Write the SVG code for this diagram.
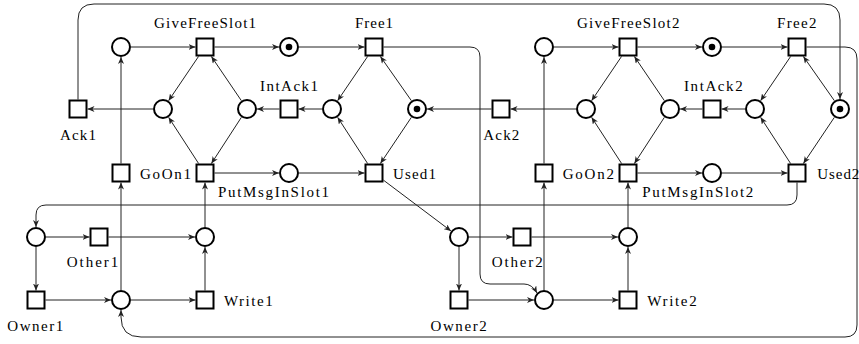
<svg xmlns="http://www.w3.org/2000/svg" width="859" height="344" viewBox="0 0 859 344">
<style>
.c{fill:none;stroke:#222;stroke-width:1;marker-end:url(#ah)}
.p{fill:#fff;stroke:#000;stroke-width:2}
.t{fill:#fff;stroke:#000;stroke-width:2}
.k{fill:#000}
text{font-family:"Liberation Serif","DejaVu Serif","Times New Roman",serif;font-size:15px;fill:#000}
</style>
<defs>
<marker id="ah" viewBox="0 0 7 6" refX="7" refY="3" markerWidth="7" markerHeight="6" markerUnits="userSpaceOnUse" orient="auto">
<path d="M0,0 L7,3 L0,6 L2,3 z" fill="#222"/>
</marker>
</defs>
<rect width="859" height="344" fill="#fff"/>
<g id="connectors">
<!-- left half -->
<path class="c" d="M131,47 H195.5"/>
<path class="c" d="M214.5,47 H279"/>
<path class="c" d="M299,47 H364.5"/>
<path class="c" d="M383.5,47 H470 Q480,47 480,57 V274 Q480,284 490,284 H524 Q532,284 537,293"/>
<path class="c" d="M198.5,56.5 L168.6,100.7"/>
<path class="c" d="M241.4,100.7 L211.4,56.5"/>
<path class="c" d="M198.6,163.5 L168.6,117.3"/>
<path class="c" d="M241.4,117.3 L211.4,163.5"/>
<path class="c" d="M279.5,109 H257"/>
<path class="c" d="M322,109 H298.5"/>
<path class="c" d="M367.6,56.5 L337.6,100.7"/>
<path class="c" d="M411.4,100.7 L380.4,56.5"/>
<path class="c" d="M367.6,163.5 L337.6,117.3"/>
<path class="c" d="M411.4,117.3 L380.4,163.5"/>
<path class="c" d="M153,109 H87.5"/>
<path class="c" d="M214.5,173 H279"/>
<path class="c" d="M299,173 H364.5"/>
<path class="c" d="M121,163.5 V57"/>
<path class="c" d="M121,290 V182.5"/>
<path class="c" d="M205,227 V182.5"/>
<path class="c" d="M205,290.5 V247"/>
<path class="c" d="M131,300 H195.5"/>
<path class="c" d="M45.5,300 H111"/>
<path class="c" d="M36,247 V290.5"/>
<path class="c" d="M46,237 H89.5"/>
<path class="c" d="M108.5,237 H195"/>
<path class="c" d="M383.5,180.2 L451,231"/>
<path class="c" d="M78,99.5 V20 Q78,4 94,4 H824 Q840,4 840,20 V99"/>
<!-- right half -->
<path class="c" d="M554,47 H618.5"/>
<path class="c" d="M637.5,47 H702"/>
<path class="c" d="M722,47 H787.5"/>
<path class="c" d="M806.5,47 H845 Q857,47 857,59 V325 Q857,337 845,337 H141 Q121,337 121,317 V310"/>
<path class="c" d="M621.5,56.5 L591.6,100.7"/>
<path class="c" d="M664.4,100.7 L634.4,56.5"/>
<path class="c" d="M621.6,163.5 L591.6,117.3"/>
<path class="c" d="M664.4,117.3 L634.4,163.5"/>
<path class="c" d="M702.5,109 H680"/>
<path class="c" d="M745,109 H721.5"/>
<path class="c" d="M790.6,56.5 L760.6,100.7"/>
<path class="c" d="M834.4,100.7 L803.4,56.5"/>
<path class="c" d="M790.6,163.5 L760.6,117.3"/>
<path class="c" d="M834.4,117.3 L803.4,163.5"/>
<path class="c" d="M576,109 H510.5"/>
<path class="c" d="M491.5,109 H427"/>
<path class="c" d="M637.5,173 H702"/>
<path class="c" d="M722,173 H787.5"/>
<path class="c" d="M544,163.5 V57"/>
<path class="c" d="M544,290 V182.5"/>
<path class="c" d="M628,227 V182.5"/>
<path class="c" d="M628,290.5 V247"/>
<path class="c" d="M554,300 H618.5"/>
<path class="c" d="M468.5,300 H534"/>
<path class="c" d="M459,247 V290.5"/>
<path class="c" d="M469,237 H512.5"/>
<path class="c" d="M531.5,237 H618"/>
<path class="c" d="M797,182.5 V195 Q797,205 787,205 H46 Q36,205 36,215 V227"/>
</g>
<!-- left half nodes -->
<g id="p1_req"><circle class="p" cx="121" cy="47" r="9"/></g>
<g id="p1_slot"><circle class="p" cx="289" cy="47" r="9"/><circle class="k" cx="289" cy="47" r="3.3"/></g>
<g id="p1_a"><circle class="p" cx="163" cy="109" r="9"/></g>
<g id="p1_b"><circle class="p" cx="247" cy="109" r="9"/></g>
<g id="p1_c"><circle class="p" cx="332" cy="109" r="9"/></g>
<g id="p1_free"><circle class="p" cx="417" cy="109" r="9"/><circle class="k" cx="417" cy="109" r="3.3"/></g>
<g id="p1_msg"><circle class="p" cx="289" cy="173" r="9"/></g>
<g id="p1_w"><circle class="p" cx="36" cy="237" r="9"/></g>
<g id="p1_r"><circle class="p" cx="205" cy="237" r="9"/></g>
<g id="p1_s"><circle class="p" cx="121" cy="300" r="9"/></g>
<g id="GiveFreeSlot1"><rect class="t" x="196.5" y="38.5" width="17" height="17"/><text x="154" y="28.3" textLength="102" lengthAdjust="spacing">GiveFreeSlot1</text></g>
<g id="Free1"><rect class="t" x="365.5" y="38.5" width="17" height="17"/><text x="355" y="28.3" textLength="38" lengthAdjust="spacing">Free1</text></g>
<g id="Ack1"><rect class="t" x="69.5" y="100.5" width="17" height="17"/><text x="60" y="140" textLength="36" lengthAdjust="spacing">Ack1</text></g>
<g id="IntAck1"><rect class="t" x="280.5" y="100.5" width="17" height="17"/><text x="260" y="90.7" textLength="58" lengthAdjust="spacing">IntAck1</text></g>
<g id="GoOn1"><rect class="t" x="112.5" y="164.5" width="17" height="17"/><text x="140" y="178.5" textLength="51" lengthAdjust="spacing">GoOn1</text></g>
<g id="PutMsgInSlot1"><rect class="t" x="196.5" y="164.5" width="17" height="17"/><text x="218" y="196.6" textLength="111" lengthAdjust="spacing">PutMsgInSlot1</text></g>
<g id="Used1"><rect class="t" x="365.5" y="164.5" width="17" height="17"/><text x="393" y="179" textLength="43" lengthAdjust="spacing">Used1</text></g>
<g id="Other1"><rect class="t" x="90.5" y="228.5" width="17" height="17"/><text x="66.7" y="266.7" textLength="51.6" lengthAdjust="spacing">Other1</text></g>
<g id="Owner1"><rect class="t" x="27.5" y="291.5" width="17" height="17"/><text x="7.3" y="330.5" textLength="56" lengthAdjust="spacing">Owner1</text></g>
<g id="Write1"><rect class="t" x="196.5" y="291.5" width="17" height="17"/><text x="224" y="306" textLength="48.7" lengthAdjust="spacing">Write1</text></g>
<!-- right half nodes -->
<g id="p2_req"><circle class="p" cx="544" cy="47" r="9"/></g>
<g id="p2_slot"><circle class="p" cx="712" cy="47" r="9"/><circle class="k" cx="712" cy="47" r="3.3"/></g>
<g id="p2_a"><circle class="p" cx="586" cy="109" r="9"/></g>
<g id="p2_b"><circle class="p" cx="670" cy="109" r="9"/></g>
<g id="p2_c"><circle class="p" cx="755" cy="109" r="9"/></g>
<g id="p2_free"><circle class="p" cx="840" cy="109" r="9"/><circle class="k" cx="840" cy="109" r="3.3"/></g>
<g id="p2_msg"><circle class="p" cx="712" cy="173" r="9"/></g>
<g id="p2_w"><circle class="p" cx="459" cy="237" r="9"/></g>
<g id="p2_r"><circle class="p" cx="628" cy="237" r="9"/></g>
<g id="p2_s"><circle class="p" cx="544" cy="300" r="9"/></g>
<g id="GiveFreeSlot2"><rect class="t" x="619.5" y="38.5" width="17" height="17"/><text x="577" y="28.3" textLength="102.5" lengthAdjust="spacing">GiveFreeSlot2</text></g>
<g id="Free2"><rect class="t" x="788.5" y="38.5" width="17" height="17"/><text x="777" y="28.3" textLength="39.5" lengthAdjust="spacing">Free2</text></g>
<g id="Ack2"><rect class="t" x="492.5" y="100.5" width="17" height="17"/><text x="483.3" y="140" textLength="36" lengthAdjust="spacing">Ack2</text></g>
<g id="IntAck2"><rect class="t" x="703.5" y="100.5" width="17" height="17"/><text x="684" y="90.7" textLength="58.7" lengthAdjust="spacing">IntAck2</text></g>
<g id="GoOn2"><rect class="t" x="535.5" y="164.5" width="17" height="17"/><text x="562.7" y="178.5" textLength="51.3" lengthAdjust="spacing">GoOn2</text></g>
<g id="PutMsgInSlot2"><rect class="t" x="619.5" y="164.5" width="17" height="17"/><text x="642.3" y="196.6" textLength="111" lengthAdjust="spacing">PutMsgInSlot2</text></g>
<g id="Used2"><rect class="t" x="788.5" y="164.5" width="17" height="17"/><text x="817.3" y="179" textLength="42" lengthAdjust="spacing">Used2</text></g>
<g id="Other2"><rect class="t" x="513.5" y="228.5" width="17" height="17"/><text x="491.7" y="266.7" textLength="51" lengthAdjust="spacing">Other2</text></g>
<g id="Owner2"><rect class="t" x="450.5" y="291.5" width="17" height="17"/><text x="430.5" y="330.5" textLength="56.2" lengthAdjust="spacing">Owner2</text></g>
<g id="Write2"><rect class="t" x="619.5" y="291.5" width="17" height="17"/><text x="647.3" y="306" textLength="49.4" lengthAdjust="spacing">Write2</text></g>
</svg>
